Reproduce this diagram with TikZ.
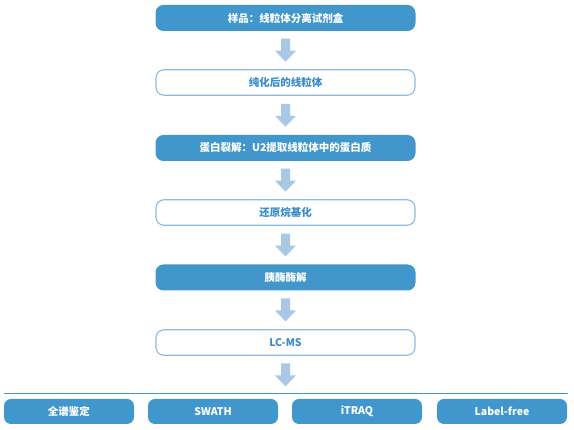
\documentclass[tikz,border=0pt]{standalone}
\usepackage{fontspec}
\setmainfont{Noto Sans CJK SC}
\usetikzlibrary{calc}
\definecolor{dblue}{HTML}{4197CB}
\definecolor{lblue}{HTML}{8DBAE2}
\definecolor{tblue}{HTML}{3A8DC8}
\definecolor{ablue}{HTML}{A9C8E6}
\tikzset{
  filledbox/.style={fill=dblue, rounded corners=8pt, minimum width=260pt, minimum height=26pt, inner sep=0pt, text=white, font=\bfseries\fontsize{10.5}{12}\selectfont},
  outlinebox/.style={draw=lblue, line width=1.1pt, fill=white, rounded corners=8pt, minimum width=259pt, minimum height=25.5pt, inner sep=0pt, text=tblue, font=\bfseries\fontsize{10.5}{12}\selectfont},
  methodbox/.style={fill=dblue, rounded corners=7pt, minimum width=130pt, minimum height=25pt, inner sep=0pt, text=white, font=\bfseries\fontsize{10.5}{12}\selectfont},
  flowarrow/.style={fill=ablue, draw=none},
  baseline rule/.style={draw=dblue, line width=1pt}
}
\newcommand{\downarrowat}[1]{%
  \fill[flowarrow] ($(#1)+(-4.5pt,11.5pt)$) -- ($(#1)+(4.5pt,11.5pt)$) -- ($(#1)+(4.5pt,-0.5pt)$) -- ($(#1)+(10.5pt,-0.5pt)$) -- ($(#1)+(0pt,-11.5pt)$) -- ($(#1)+(-10.5pt,-0.5pt)$) -- ($(#1)+(-4.5pt,-0.5pt)$) -- cycle;}
\begin{document}
\begin{tikzpicture}[x=1pt,y=1pt]
\useasboundingbox (0,0) rectangle (574,430);
\node[filledbox]  (b1) at (285.5,430-18)    {样品：线粒体分离试剂盒};
\node[outlinebox] (b2) at (285.5,430-82.5)  {纯化后的线粒体};
\node[filledbox]  (b3) at (285.5,430-148)   {蛋白裂解：U2提取线粒体中的蛋白质};
\node[outlinebox] (b4) at (285.5,430-212.5) {还原烷基化};
\node[filledbox]  (b5) at (285.5,430-277.5) {胰酶酶解};
\node[outlinebox] (b6) at (285.5,430-342.5) {LC-MS};
\coordinate (L1) at (4,430-394);
\coordinate (L2) at (568,430-394);
\coordinate (Lm) at (285.5,430-394);
\draw[baseline rule] (L1) -- (L2);
\node[methodbox] (m1) at (69,430-411.5)  {全谱鉴定};
\node[methodbox] (m2) at (213,430-411.5) {SWATH};
\node[methodbox] (m3) at (357,430-411.5) {iTRAQ};
\node[methodbox] (m4) at (502,430-411.5) {Label-free};
\coordinate (a1) at ($(b1.south)!0.5!(b2.north)$);
\coordinate (a2) at ($(b2.south)!0.5!(b3.north)$);
\coordinate (a3) at ($(b3.south)!0.5!(b4.north)$);
\coordinate (a4) at ($(b4.south)!0.5!(b5.north)$);
\coordinate (a5) at ($(b5.south)!0.5!(b6.north)$);
\coordinate (a6) at ($(b6.south)!0.5!(Lm)$);
\downarrowat{a1}
\downarrowat{a2}
\downarrowat{a3}
\downarrowat{a4}
\downarrowat{a5}
\downarrowat{a6}
\end{tikzpicture}
\end{document}
